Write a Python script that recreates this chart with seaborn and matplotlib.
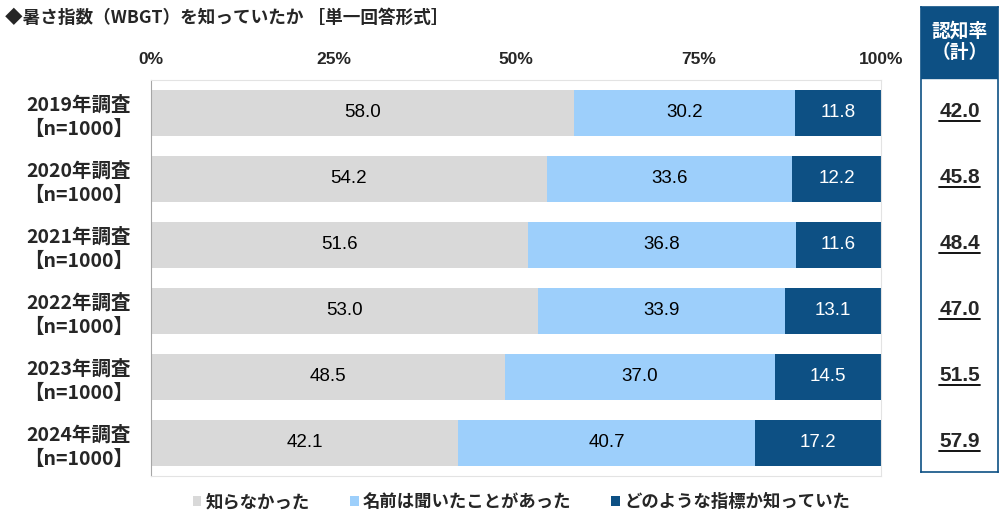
import numpy as np
import pandas as pd
import matplotlib
matplotlib.use("Agg")
import matplotlib.pyplot as plt
import matplotlib.transforms as mtransforms
from matplotlib.patches import Rectangle, Patch
import seaborn as sns

# data
years = ["2019年調査\n【n=1000】", "2020年調査\n【n=1000】", "2021年調査\n【n=1000】",
         "2022年調査\n【n=1000】", "2023年調査\n【n=1000】", "2024年調査\n【n=1000】"]
not_known = [58.0, 54.2, 51.6, 53.0, 48.5, 42.1]
heard_name = [30.2, 33.6, 36.8, 33.9, 37.0, 40.7]
knew_index = [11.8, 12.2, 11.6, 13.1, 14.5, 17.2]
awareness = [42.0, 45.8, 48.4, 47.0, 51.5, 57.9]
series_names = ["知らなかった", "名前は聞いたことがあった", "どのような指標か知っていた"]
xticks = [0, 25, 50, 75, 100]

colors = ["#D9D9D9", "#9DCFFB", "#0D5084"]
num_font = ["Liberation Sans", "DejaVu Sans"]

sns.set_style("white")
plt.rcParams["font.family"] = ["Noto Sans CJK JP", "DejaVu Sans"]

df = pd.DataFrame({"year": years, "s1": not_known, "s2": heard_name, "s3": knew_index})
df["c1"] = df["s1"]
df["c2"] = df["s1"] + df["s2"]
df["c3"] = df["c2"] + df["s3"]

fig = plt.figure(figsize=(10, 5.28), dpi=100)
ax = fig.add_axes([0.151, 0.0985, 0.73, 0.75])

# stacked bars: draw cumulative totals from the back
for col, color in zip(["c3", "c2", "c1"], colors[::-1]):
    sns.barplot(data=df, y="year", x=col, color=color, orient="h", width=0.7,
                saturation=1, ax=ax, linewidth=0)

# value labels centred in each segment
for i in range(len(years)):
    starts = [0, df["c1"][i], df["c2"][i]]
    vals = [df["s1"][i], df["s2"][i], df["s3"][i]]
    for j in range(3):
        ax.text(starts[j] + vals[j] / 2, i, f"{vals[j]:.1f}", ha="center", va="center",
                fontsize=13.5, family=num_font, color="white" if j == 2 else "black")

ax.set_xlim(0, 100)
ax.set_ylim(len(years) - 0.5, -0.5)
ax.set_xticks(xticks)
ax.set_xticklabels([f"{t}%" for t in xticks], fontsize=12.5, fontweight="bold", family=num_font)
ax.xaxis.tick_top()
ax.tick_params(axis="x", length=0, pad=9)
ax.tick_params(axis="y", length=0, pad=13)
for lab in ax.get_yticklabels():
    lab.set_fontsize(14)
    lab.set_fontweight("bold")
    lab.set_multialignment("center")
    lab.set_linespacing(1.33)
ax.set_yticks(np.arange(len(years) + 1) - 0.5, minor=True)
ax.tick_params(axis="y", which="minor", length=5, color="#A6A6A6", direction="out")
ax.set_xlabel("")
ax.set_ylabel("")
for side in ["top", "right", "bottom"]:
    ax.spines[side].set_color("#E3E3E3")
ax.spines["left"].set_color("#A6A6A6")

# right panel with awareness totals
ax2 = fig.add_axes([0.921, 0.106, 0.077, 0.8807])
ax2.set_xticks([])
ax2.set_yticks([])
for sp in ax2.spines.values():
    sp.set_color("#0D5084")
    sp.set_linewidth(1.2)
ax2.add_patch(Rectangle((0, 0.847), 1, 0.153, transform=ax2.transAxes, color="#0D5084"))
ax2.text(0.5, 0.925, "認知率\n（計）", transform=ax2.transAxes, ha="center", va="center",
         color="white", fontsize=13.5, fontweight="bold", linespacing=1.15)

trans = mtransforms.blended_transform_factory(ax2.transAxes, ax.transData)
for i, v in enumerate(awareness):
    ax2.text(0.5, i - 0.02, f"{v:.1f}", transform=trans, ha="center", va="center",
             fontsize=15, fontweight="bold", family=num_font, clip_on=False)
    ax2.plot([0.23, 0.77], [i + 0.12, i + 0.12], transform=trans, color="black",
             linewidth=1.3, clip_on=False)

# title
fig.text(0.005, 0.966, "◆暑さ指数（WBGT）を知っていたか ［単一回答形式］", ha="left", va="center",
         fontsize=12.7, fontweight="bold")

handles = [Patch(facecolor=c, edgecolor="none") for c in colors]
leg = fig.legend(handles, series_names, loc="center", bbox_to_anchor=(0.5215, 0.049), ncol=3,
                 frameon=False, handlelength=0.5, handleheight=0.5, handletextpad=0.25,
                 columnspacing=2.3, prop={"size": 12.5, "weight": "bold"})

fig.savefig("out.png", dpi=100)
